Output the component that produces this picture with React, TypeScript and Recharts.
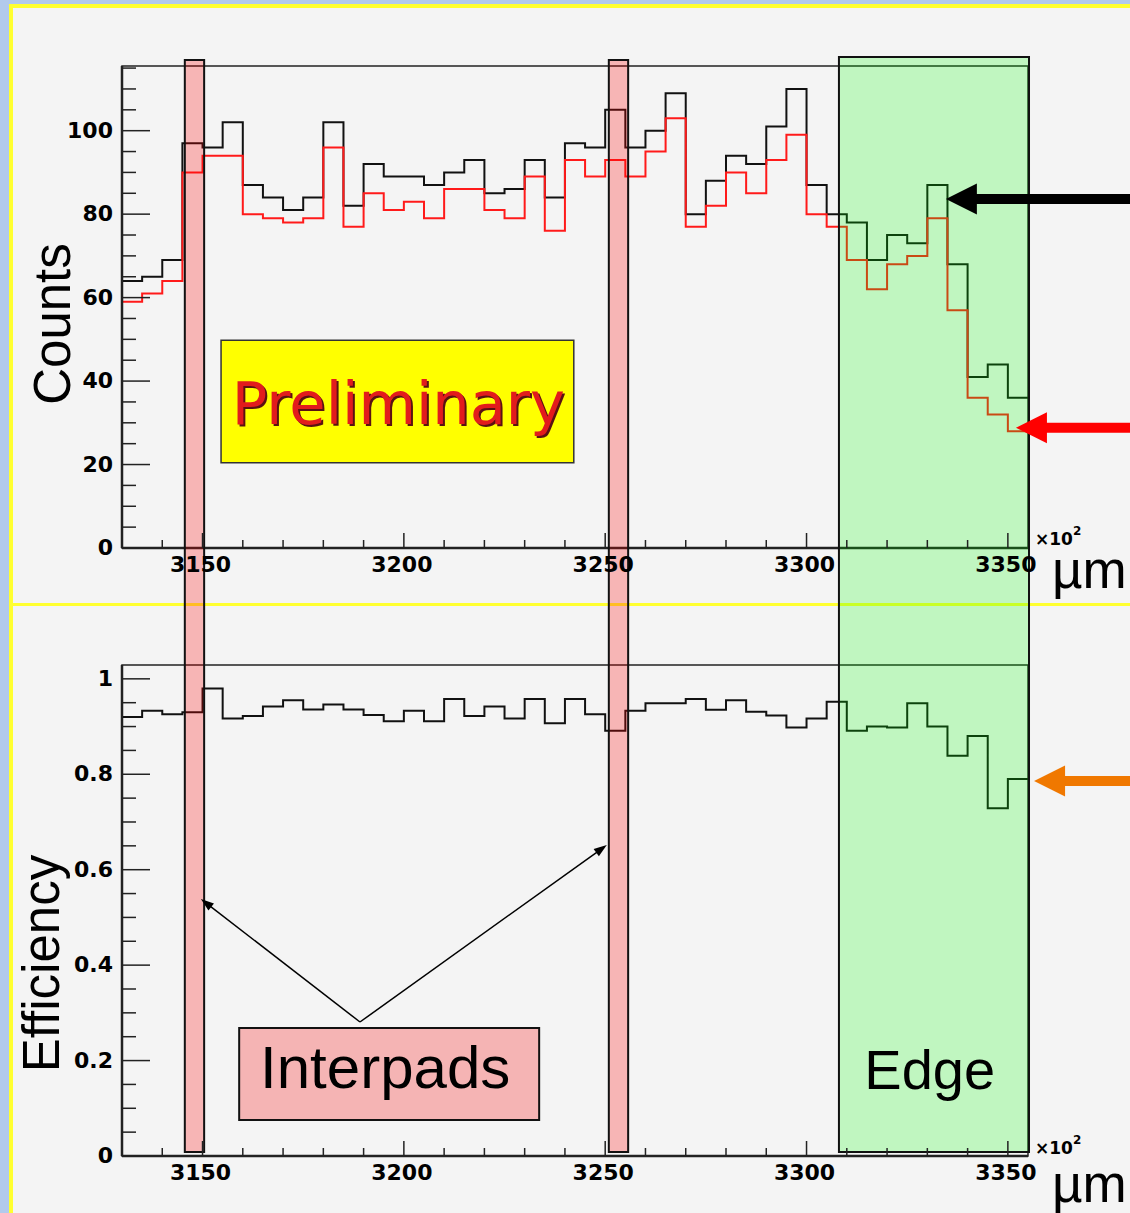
import React from "react";
import {
  ComposedChart,
  Line,
  XAxis,
  YAxis,
  ReferenceArea,
  ReferenceLine,
  ReferenceDot,
} from "recharts";

// bins are 5 units wide (x10^2 um), low edges
const binStarts = [
  3130, 3135, 3140, 3145, 3150, 3155, 3160, 3165, 3170, 3175, 3180, 3185, 3190, 3195, 3200,
  3205, 3210, 3215, 3220, 3225, 3230, 3235, 3240, 3245, 3250, 3255, 3260, 3265, 3270, 3275,
  3280, 3285, 3290, 3295, 3300, 3305, 3310, 3315, 3320, 3325, 3330, 3335, 3340, 3345, 3350,
];
const binEnd = 3355;

// black: all tracks, red: with a hit
const allCounts = [
  64, 65, 69, 97, 96, 102, 87, 84, 81, 84, 102, 82, 92, 89, 89, 87, 90, 93, 85, 86, 93, 84,
  97, 96, 105, 96, 100, 109, 80, 88, 94, 92, 101, 110, 87, 80, 78, 69, 75, 73, 87, 68, 41, 44, 36,
];
const hitCounts = [
  59, 61, 64, 90, 94, 94, 80, 79, 78, 79, 96, 77, 85, 81, 83, 79, 86, 86, 81, 79, 89, 76,
  93, 89, 93, 89, 95, 103, 77, 82, 90, 85, 93, 99, 80, 77, 69, 62, 68, 70, 79, 57, 36, 32, 28,
];
const efficiency = [
  0.92, 0.933, 0.926, 0.93, 0.98, 0.917, 0.922, 0.942, 0.955, 0.936, 0.946, 0.936, 0.924,
  0.911, 0.933, 0.911, 0.958, 0.922, 0.942, 0.917, 0.958, 0.907, 0.958, 0.926, 0.891, 0.933,
  0.949, 0.949, 0.958, 0.935, 0.955, 0.931, 0.923, 0.898, 0.917, 0.952, 0.891, 0.9, 0.898,
  0.949, 0.9, 0.839, 0.88, 0.729, 0.79,
];

const xTicks = [
  3140, 3150, 3160, 3170, 3180, 3190, 3200, 3210, 3220, 3230, 3240, 3250, 3260, 3270, 3280,
  3290, 3300, 3310, 3320, 3330, 3340, 3350,
];
const xMajor = [3150, 3200, 3250, 3300, 3350];
const countTicks = [
  0, 5, 10, 15, 20, 25, 30, 35, 40, 45, 50, 55, 60, 65, 70, 75, 80, 85, 90, 95, 100, 105, 110, 115,
];
const countMajor = [0, 20, 40, 60, 80, 100];
const effTicks = [
  0, 0.05, 0.1, 0.15, 0.2, 0.25, 0.3, 0.35, 0.4, 0.45, 0.5, 0.55, 0.6, 0.65, 0.7, 0.75, 0.8,
  0.85, 0.9, 0.95, 1,
];
const effMajor = [0, 0.2, 0.4, 0.6, 0.8, 1];

// highlighted regions, x in the same units
const interpads = [
  [3145.6, 3150.4],
  [3250.9, 3255.7],
];
const edgeZone = [3308.05, 3355.25];

const X_DOMAIN = [3130, 3355];
const COUNT_MAX = 115.5;
const EFF_MAX = 1.029;

const W = 1130;
const TOP_H = 605;
const BOT_H = 608;

const countRows = [
  ...binStarts.map((x, i) => ({ x, all: allCounts[i], hit: hitCounts[i] })),
  { x: binEnd, all: allCounts[allCounts.length - 1], hit: hitCounts[hitCounts.length - 1] },
];
const effRows = [
  ...binStarts.map((x, i) => ({ x, eff: efficiency[i] })),
  { x: binEnd, eff: efficiency[efficiency.length - 1] },
];

const tickFont = {
  fontFamily: "DejaVu Sans",
  fontWeight: 700,
  fontSize: 22,
  fill: "#000",
};
const titleFont = { fontFamily: "Liberation Sans", fontSize: 51, fill: "#000" };
const axisLine = { stroke: "#222", strokeWidth: 2.5 };

function XTick(props: any) {
  const { x, y, payload } = props;
  const major = xMajor.includes(payload.value);
  return (
    <g>
      <line x1={x} x2={x} y1={y} y2={y - (major ? 15 : 8)} stroke="#222" strokeWidth={1.5} />
      {major && (
        <text x={x - 2} y={y + 24} textAnchor="middle" {...tickFont}>
          {payload.value}
        </text>
      )}
    </g>
  );
}

const yTick = (major: number[], fmt: (v: number) => string) => (props: any) => {
  const { x, y, payload } = props;
  const isMajor = major.some((m) => Math.abs(m - payload.value) < 1e-9);
  return (
    <g>
      <line x1={x} x2={x + (isMajor ? 28 : 14)} y1={y} y2={y} stroke="#222" strokeWidth={1.5} />
      {isMajor && (
        <text x={x - 9} y={y + 7} textAnchor="end" {...tickFont}>
          {fmt(payload.value)}
        </text>
      )}
    </g>
  );
};

const effFmt = (v: number) => (v === 0 ? "0" : v === 1 ? "1" : v.toFixed(1));

const axisTitle = (text: string, dx: number, dy: number) => (props: any) => {
  const vb = props.viewBox || { x: 72, y: 66, width: 50, height: 482 };
  const bx = vb.x + dx;
  const cy = vb.y + vb.height / 2 + dy;
  return (
    <text x={bx} y={cy} transform={`rotate(-90 ${bx} ${cy})`} textAnchor="middle" {...titleFont}>
      {text}
    </text>
  );
};

const unitLabel = (umDy: number, expDy: number) => (props: any) => {
  const vb = props.viewBox || { x: 122, y: 548, width: 906, height: 30 };
  const right = vb.x + vb.width;
  return (
    <g>
      <text x={right + 7} y={vb.y + expDy} fontFamily="DejaVu Sans" fontWeight={700} fontSize={17}>
        ×10
        <tspan dy={-10} fontSize={12}>
          2
        </tspan>
      </text>
      <text x={right + 24} y={vb.y + umDy} {...titleFont} fontSize={53}>
        µm
      </text>
    </g>
  );
};

// translucent band with black outline, stretched past the plot area
const band =
  (fill: string, opacity: number, up: number, down: number, capTop: boolean, capBottom: boolean) =>
  (p: any) => {
    const top = p.y - up;
    const bottom = p.y + p.height + down;
    const l = p.x;
    const r = p.x + p.width;
    let d = `M${l},${top} V${bottom} M${r},${top} V${bottom}`;
    if (capTop) d += ` M${l - 1},${top} H${r + 1}`;
    if (capBottom) d += ` M${l - 1},${bottom} H${r + 1}`;
    return (
      <g>
        <rect x={l} y={top} width={r - l} height={bottom - top} fill={fill} fillOpacity={opacity} />
        <path d={d} stroke="#111" strokeWidth={2} fill="none" />
      </g>
    );
  };

const arrow = (color: string, shaft: number, headL: number, headW: number) => (p: any) => {
  const { x1, y1, x2, y2 } = p;
  const dx = x2 - x1;
  const dy = y2 - y1;
  const len = Math.hypot(dx, dy) || 1;
  const ux = dx / len;
  const uy = dy / len;
  const bx = x1 + ux * headL;
  const by = y1 + uy * headL;
  const nx = -uy * headW;
  const ny = ux * headW;
  return (
    <g>
      <line x1={bx - ux} y1={by - uy} x2={x2} y2={y2} stroke={color} strokeWidth={shaft} />
      <polygon points={`${x1},${y1} ${bx + nx},${by + ny} ${bx - nx},${by - ny}`} fill={color} />
    </g>
  );
};

const PINK = "#ff0000";
const PINK_A = 0.26;
const GREEN = "#00ff00";
const GREEN_A = 0.21;

function CountsPanel() {
  return (
    <ComposedChart
      width={W}
      height={TOP_H}
      data={countRows}
      margin={{ top: 66, right: 102, bottom: 27, left: 72 }}
    >
      <XAxis
        dataKey="x"
        type="number"
        domain={X_DOMAIN}
        allowDataOverflow
        ticks={xTicks}
        interval={0}
        tick={XTick}
        tickSize={0}
        tickMargin={0}
        tickLine={false}
        axisLine={axisLine}
        height={30}
        label={unitLabel(40, -3)}
      />
      <YAxis
        type="number"
        domain={[0, COUNT_MAX]}
        allowDataOverflow
        ticks={countTicks}
        interval={0}
        tick={yTick(countMajor, String)}
        tickSize={0}
        tickMargin={0}
        tickLine={false}
        axisLine={axisLine}
        width={50}
        label={axisTitle("Counts", -2, 17)}
      />
      <ReferenceArea
        x1={X_DOMAIN[0]}
        x2={X_DOMAIN[1]}
        y1={0}
        y2={COUNT_MAX}
        fill="none"
        stroke="#222"
        strokeWidth={1.5}
        ifOverflow="visible"
      />
      <Line
        dataKey="all"
        type="stepAfter"
        stroke="#111"
        strokeWidth={2}
        dot={false}
        isAnimationActive={false}
      />
      <Line
        dataKey="hit"
        type="stepAfter"
        stroke="#ff1a1a"
        strokeWidth={2}
        dot={false}
        isAnimationActive={false}
      />
      <ReferenceArea
        x1={3154.6}
        x2={3242.2}
        y1={20.4}
        y2={49.8}
        fill="#ffff00"
        fillOpacity={1}
        stroke="#333"
        strokeWidth={1.5}
        ifOverflow="visible"
        zIndex={650}
        label={(props: any) => {
          const vb = props.viewBox;
          const cx = vb.x + vb.width / 2 + 1;
          const by = vb.y + vb.height / 2 + 22;
          const f = { fontFamily: "DejaVu Sans", fontSize: 59 };
          return (
            <g>
              <text x={cx + 2} y={by + 2} textAnchor="middle" fill="#5a1212" {...f}>
                Preliminary
              </text>
              <text x={cx} y={by} textAnchor="middle" fill="#e21c1c" {...f}>
                Preliminary
              </text>
            </g>
          );
        }}
      />
      {interpads.map(([a, b]) => (
        <ReferenceArea
          key={a}
          x1={a}
          x2={b}
          ifOverflow="visible"
          zIndex={600}
          shape={band(PINK, PINK_A, 6, 57, true, false)}
        />
      ))}
      <ReferenceArea
        x1={edgeZone[0]}
        x2={edgeZone[1]}
        ifOverflow="visible"
        zIndex={600}
        shape={band(GREEN, GREEN_A, 9, 57, true, false)}
      />
      <ReferenceLine
        segment={[
          { x: 3334.6, y: 83.6 },
          { x: 3390, y: 83.6 },
        ]}
        ifOverflow="visible"
        zIndex={700}
        shape={arrow("#000", 10, 31, 15.5)}
      />
      <ReferenceLine
        segment={[
          { x: 3352.0, y: 28.8 },
          { x: 3390, y: 28.8 },
        ]}
        ifOverflow="visible"
        zIndex={700}
        shape={arrow("#ff0000", 10, 31, 15.5)}
      />
    </ComposedChart>
  );
}

function EfficiencyPanel() {
  return (
    <ComposedChart
      width={W}
      height={BOT_H}
      data={effRows}
      margin={{ top: 60, right: 102, bottom: 27, left: 72 }}
    >
      <XAxis
        dataKey="x"
        type="number"
        domain={X_DOMAIN}
        allowDataOverflow
        ticks={xTicks}
        interval={0}
        tick={XTick}
        tickSize={0}
        tickMargin={0}
        tickLine={false}
        axisLine={axisLine}
        height={30}
        label={unitLabel(46, -2)}
      />
      <YAxis
        type="number"
        domain={[0, EFF_MAX]}
        allowDataOverflow
        ticks={effTicks}
        interval={0}
        tick={yTick(effMajor, effFmt)}
        tickSize={0}
        tickMargin={0}
        tickLine={false}
        axisLine={axisLine}
        width={50}
        label={axisTitle("Efficiency", -13, 53)}
      />
      <ReferenceArea
        x1={X_DOMAIN[0]}
        x2={X_DOMAIN[1]}
        y1={0}
        y2={EFF_MAX}
        fill="none"
        stroke="#222"
        strokeWidth={1.5}
        ifOverflow="visible"
      />
      <Line
        dataKey="eff"
        type="stepAfter"
        stroke="#111"
        strokeWidth={2}
        dot={false}
        isAnimationActive={false}
      />
      {interpads.map(([a, b]) => (
        <ReferenceArea
          key={a}
          x1={a}
          x2={b}
          ifOverflow="visible"
          zIndex={600}
          shape={band(PINK, PINK_A, 60, -4, false, true)}
        />
      ))}
      <ReferenceArea
        x1={edgeZone[0]}
        x2={edgeZone[1]}
        ifOverflow="visible"
        zIndex={600}
        shape={band(GREEN, GREEN_A, 60, -4, false, true)}
      />
      <ReferenceLine
        segment={[
          { x: 3149.6, y: 0.5386 },
          { x: 3189.1, y: 0.2808 },
        ]}
        ifOverflow="visible"
        zIndex={700}
        shape={arrow("#000", 1.5, 13, 4.5)}
      />
      <ReferenceLine
        segment={[
          { x: 3250.4, y: 0.6517 },
          { x: 3189.1, y: 0.2808 },
        ]}
        ifOverflow="visible"
        zIndex={700}
        shape={arrow("#000", 1.5, 13, 4.5)}
      />
      <ReferenceArea
        x1={3159.1}
        x2={3233.6}
        y1={0.0754}
        y2={0.268}
        fill="#f5b4b4"
        fillOpacity={1}
        stroke="#111"
        strokeWidth={2}
        ifOverflow="visible"
        zIndex={650}
        label={(props: any) => {
          const vb = props.viewBox;
          return (
            <text
              x={vb.x + vb.width / 2 - 4}
              y={vb.y + vb.height / 2 + 14}
              textAnchor="middle"
              fontFamily="Liberation Sans"
              fontSize={60}
              fill="#000"
            >
              Interpads
            </text>
          );
        }}
      />
      <ReferenceDot
        x={3330.6}
        y={0.1404}
        r={0}
        ifOverflow="visible"
        zIndex={700}
        shape={(p: any) => (
          <text x={p.cx} y={p.cy} textAnchor="middle" fontFamily="Liberation Sans" fontSize={56} fill="#000">
            Edge
          </text>
        )}
      />
      <ReferenceLine
        segment={[
          { x: 3356.5, y: 0.786 },
          { x: 3390, y: 0.786 },
        ]}
        ifOverflow="visible"
        zIndex={700}
        shape={arrow("#f07800", 10, 31, 15.5)}
      />
    </ComposedChart>
  );
}

export default function App() {
  return (
    <div
      style={{
        position: "absolute",
        left: 0,
        top: 0,
        width: W,
        height: TOP_H + BOT_H,
        background: "#b2caec",
        overflow: "hidden",
        fontFamily: "Liberation Sans",
      }}
    >
      <div
        style={{
          position: "absolute",
          left: 9,
          top: 4,
          width: W,
          height: TOP_H + BOT_H,
          background: "#f4f4f4",
          borderLeft: "4px solid #ffff30",
          borderTop: "4px solid #ffff30",
        }}
      />
      <div
        style={{
          position: "absolute",
          left: 9,
          top: TOP_H - 2,
          width: W,
          height: 3,
          background: "#ffff30",
        }}
      />
      <div style={{ position: "absolute", left: 0, top: 0 }}>
        <CountsPanel />
      </div>
      <div style={{ position: "absolute", left: 0, top: TOP_H }}>
        <EfficiencyPanel />
      </div>
    </div>
  );
}
